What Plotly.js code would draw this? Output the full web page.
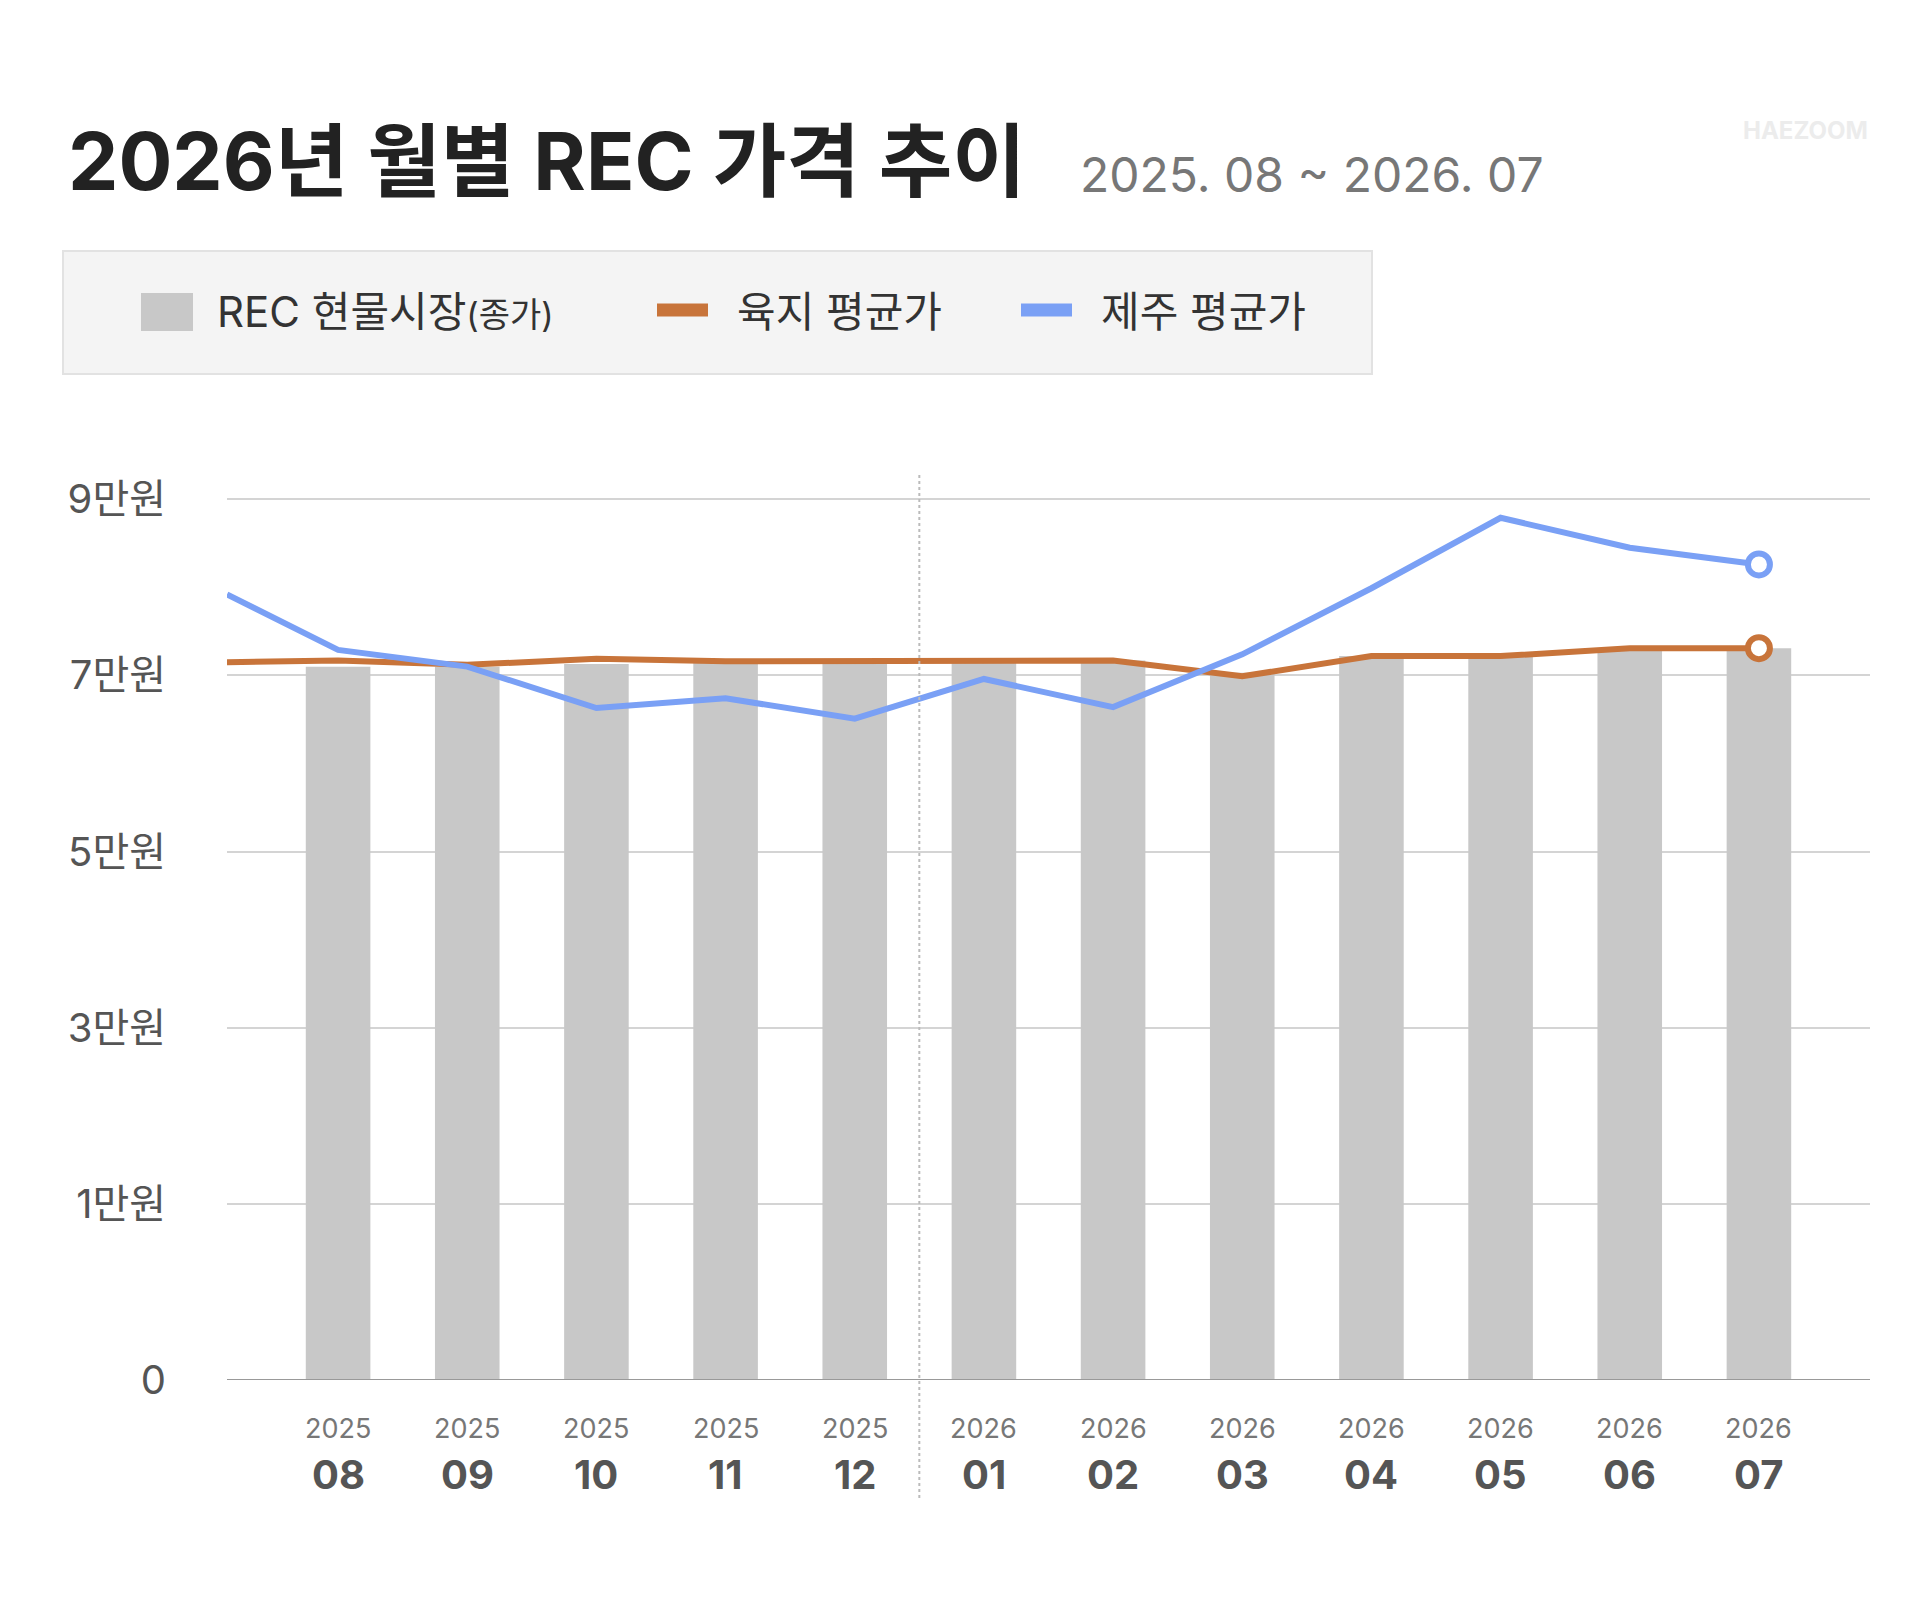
<!DOCTYPE html>
<html>
<head>
<meta charset="utf-8">
<script src="https://cdn.plot.ly/plotly-3.0.1.min.js"></script>
<style>body{margin:0;background:#fff}#chart{width:1932px;height:1612px}</style>
</head>
<body>
<div id="chart"></div>
<script>
// Monthly data (원)
var years = ["2025","2025","2025","2025","2025","2026","2026","2026","2026","2026","2026","2026"];
var months = ["08","09","10","11","12","01","02","03","04","05","06","07"];
var monthIdx = [0,1,2,3,4,5,6,7,8,9,10,11];
var spotPrice = [71000,71000,71300,71600,71600,71700,71700,70300,72200,72200,73100,73100];
// line series start with a lead-in point at the left edge
var lineX = [-0.86,0,1,2,3,4,5,6,7,8,9,10,11];
var mainlandAvg = [71500,71700,71200,71900,71600,71600,71700,71700,69900,72200,72200,73100,73100];
var jejuAvg = [79200,72900,71000,66300,67400,65100,69600,66400,72400,79900,87900,84500,82600];
var yTicks = [-10000,10000,30000,50000,70000,90000];
var yTickText = ["0","1만원","3만원","5만원","7만원","9만원"];

var FONT = "Inter, Noto Sans CJK KR, sans-serif";
var L = 227, R = 1870, T = 472, B = 1380;
function px(x){ return (x - L) / (R - L); }
function py(y){ return (B - y) / (B - T); }

var traces = [
  { type: "bar", x: monthIdx, y: spotPrice.map(function(v){ return v + 10000; }), base: -10000,
    width: 0.5, marker: { color: "#c8c8c8" }, hoverinfo: "skip" },
  { type: "scatter", mode: "lines", x: lineX, y: mainlandAvg,
    line: { color: "#c8743a", width: 6 } },
  { type: "scatter", mode: "lines", x: lineX, y: jejuAvg,
    line: { color: "#7aa0f5", width: 6 } },
  { type: "scatter", mode: "markers", x: [monthIdx[11]], y: [mainlandAvg[12]],
    marker: { size: 22, color: "#fff", line: { color: "#c8743a", width: 6 } } },
  { type: "scatter", mode: "markers", x: [monthIdx[11]], y: [jejuAvg[12]],
    marker: { size: 22, color: "#fff", line: { color: "#7aa0f5", width: 6 } } }
];

var annotations = [
  { xref: "paper", yref: "paper", x: px(66), y: py(161), xanchor: "left", yanchor: "middle",
    text: "<b>2026년 월별 REC 가격 추이</b>", showarrow: false,
    font: { family: FONT, size: 80, color: "#222" } },
  { xref: "paper", yref: "paper", x: px(1078), y: py(174), xanchor: "left", yanchor: "middle",
    text: "2025. 08 ~ 2026. 07", showarrow: false,
    font: { family: FONT, size: 48, color: "#777" } },
  { xref: "paper", yref: "paper", x: px(1870), y: py(130), xanchor: "right", yanchor: "middle",
    text: "<b>HAEZOOM</b>", showarrow: false,
    font: { family: FONT, size: 24, color: "#ececec" } },
  { xref: "paper", yref: "paper", x: px(215), y: py(311), xanchor: "left", yanchor: "middle",
    text: "REC 현물시장<span style='font-size:34px'>(종가)</span>", showarrow: false,
    font: { family: FONT, size: 42, color: "#333" } },
  { xref: "paper", yref: "paper", x: px(735), y: py(311), xanchor: "left", yanchor: "middle",
    text: "육지 평균가", showarrow: false, font: { family: FONT, size: 42, color: "#333" } },
  { xref: "paper", yref: "paper", x: px(1099), y: py(311), xanchor: "left", yanchor: "middle",
    text: "제주 평균가", showarrow: false, font: { family: FONT, size: 42, color: "#333" } }
];
monthIdx.forEach(function(i){
  annotations.push({ xref: "x", yref: "paper", x: i, y: py(1428), yanchor: "middle",
    text: years[i], showarrow: false, font: { family: FONT, size: 27, color: "#777" } });
  annotations.push({ xref: "x", yref: "paper", x: i, y: py(1474), yanchor: "middle",
    text: "<b>" + months[i] + "</b>", showarrow: false, font: { family: FONT, size: 40, color: "#555" } });
});

var shapes = [
  { type: "rect", xref: "paper", yref: "paper", x0: px(63), x1: px(1372), y0: py(251), y1: py(374),
    fillcolor: "#f4f4f4", line: { color: "#e2e2e2", width: 2 }, layer: "below" },
  { type: "rect", xref: "paper", yref: "paper", x0: px(141), x1: px(193), y0: py(293), y1: py(331),
    fillcolor: "#c8c8c8", line: { width: 0 } },
  { type: "line", xref: "paper", yref: "paper", x0: px(657), x1: px(708), y0: py(310), y1: py(310),
    line: { color: "#c8743a", width: 13 } },
  { type: "line", xref: "paper", yref: "paper", x0: px(1021), x1: px(1072), y0: py(310), y1: py(310),
    line: { color: "#7aa0f5", width: 13 } },
  { type: "line", xref: "x", yref: "paper", x0: 4.5, x1: 4.5, y0: py(1498), y1: 1,
    line: { color: "#bbb", width: 2, dash: "dot" } }
];

var layout = {
  width: 1932, height: 1612,
  margin: { l: L, r: 1932 - R, t: T, b: 1612 - B },
  paper_bgcolor: "#fff", plot_bgcolor: "#fff",
  showlegend: false,
  xaxis: { range: [-0.86, 11.86], showticklabels: false, showgrid: false, zeroline: false,
    showline: false, fixedrange: true },
  yaxis: { range: [-10000, 93100], tickvals: yTicks, ticktext: yTickText,
    gridcolor: "#d4d4d4", gridwidth: 2, zeroline: false, showline: false,
    ticklabelstandoff: 60, tickfont: { family: FONT, size: 40, color: "#555" } },
  annotations: annotations,
  shapes: shapes
};
// axis base line
layout.shapes.push({ type: "line", xref: "paper", yref: "y", x0: 0, x1: 1, y0: -10000, y1: -10000,
  line: { color: "#999", width: 2 } });

Plotly.newPlot("chart", traces, layout, { staticPlot: true });
</script>
</body>
</html>
